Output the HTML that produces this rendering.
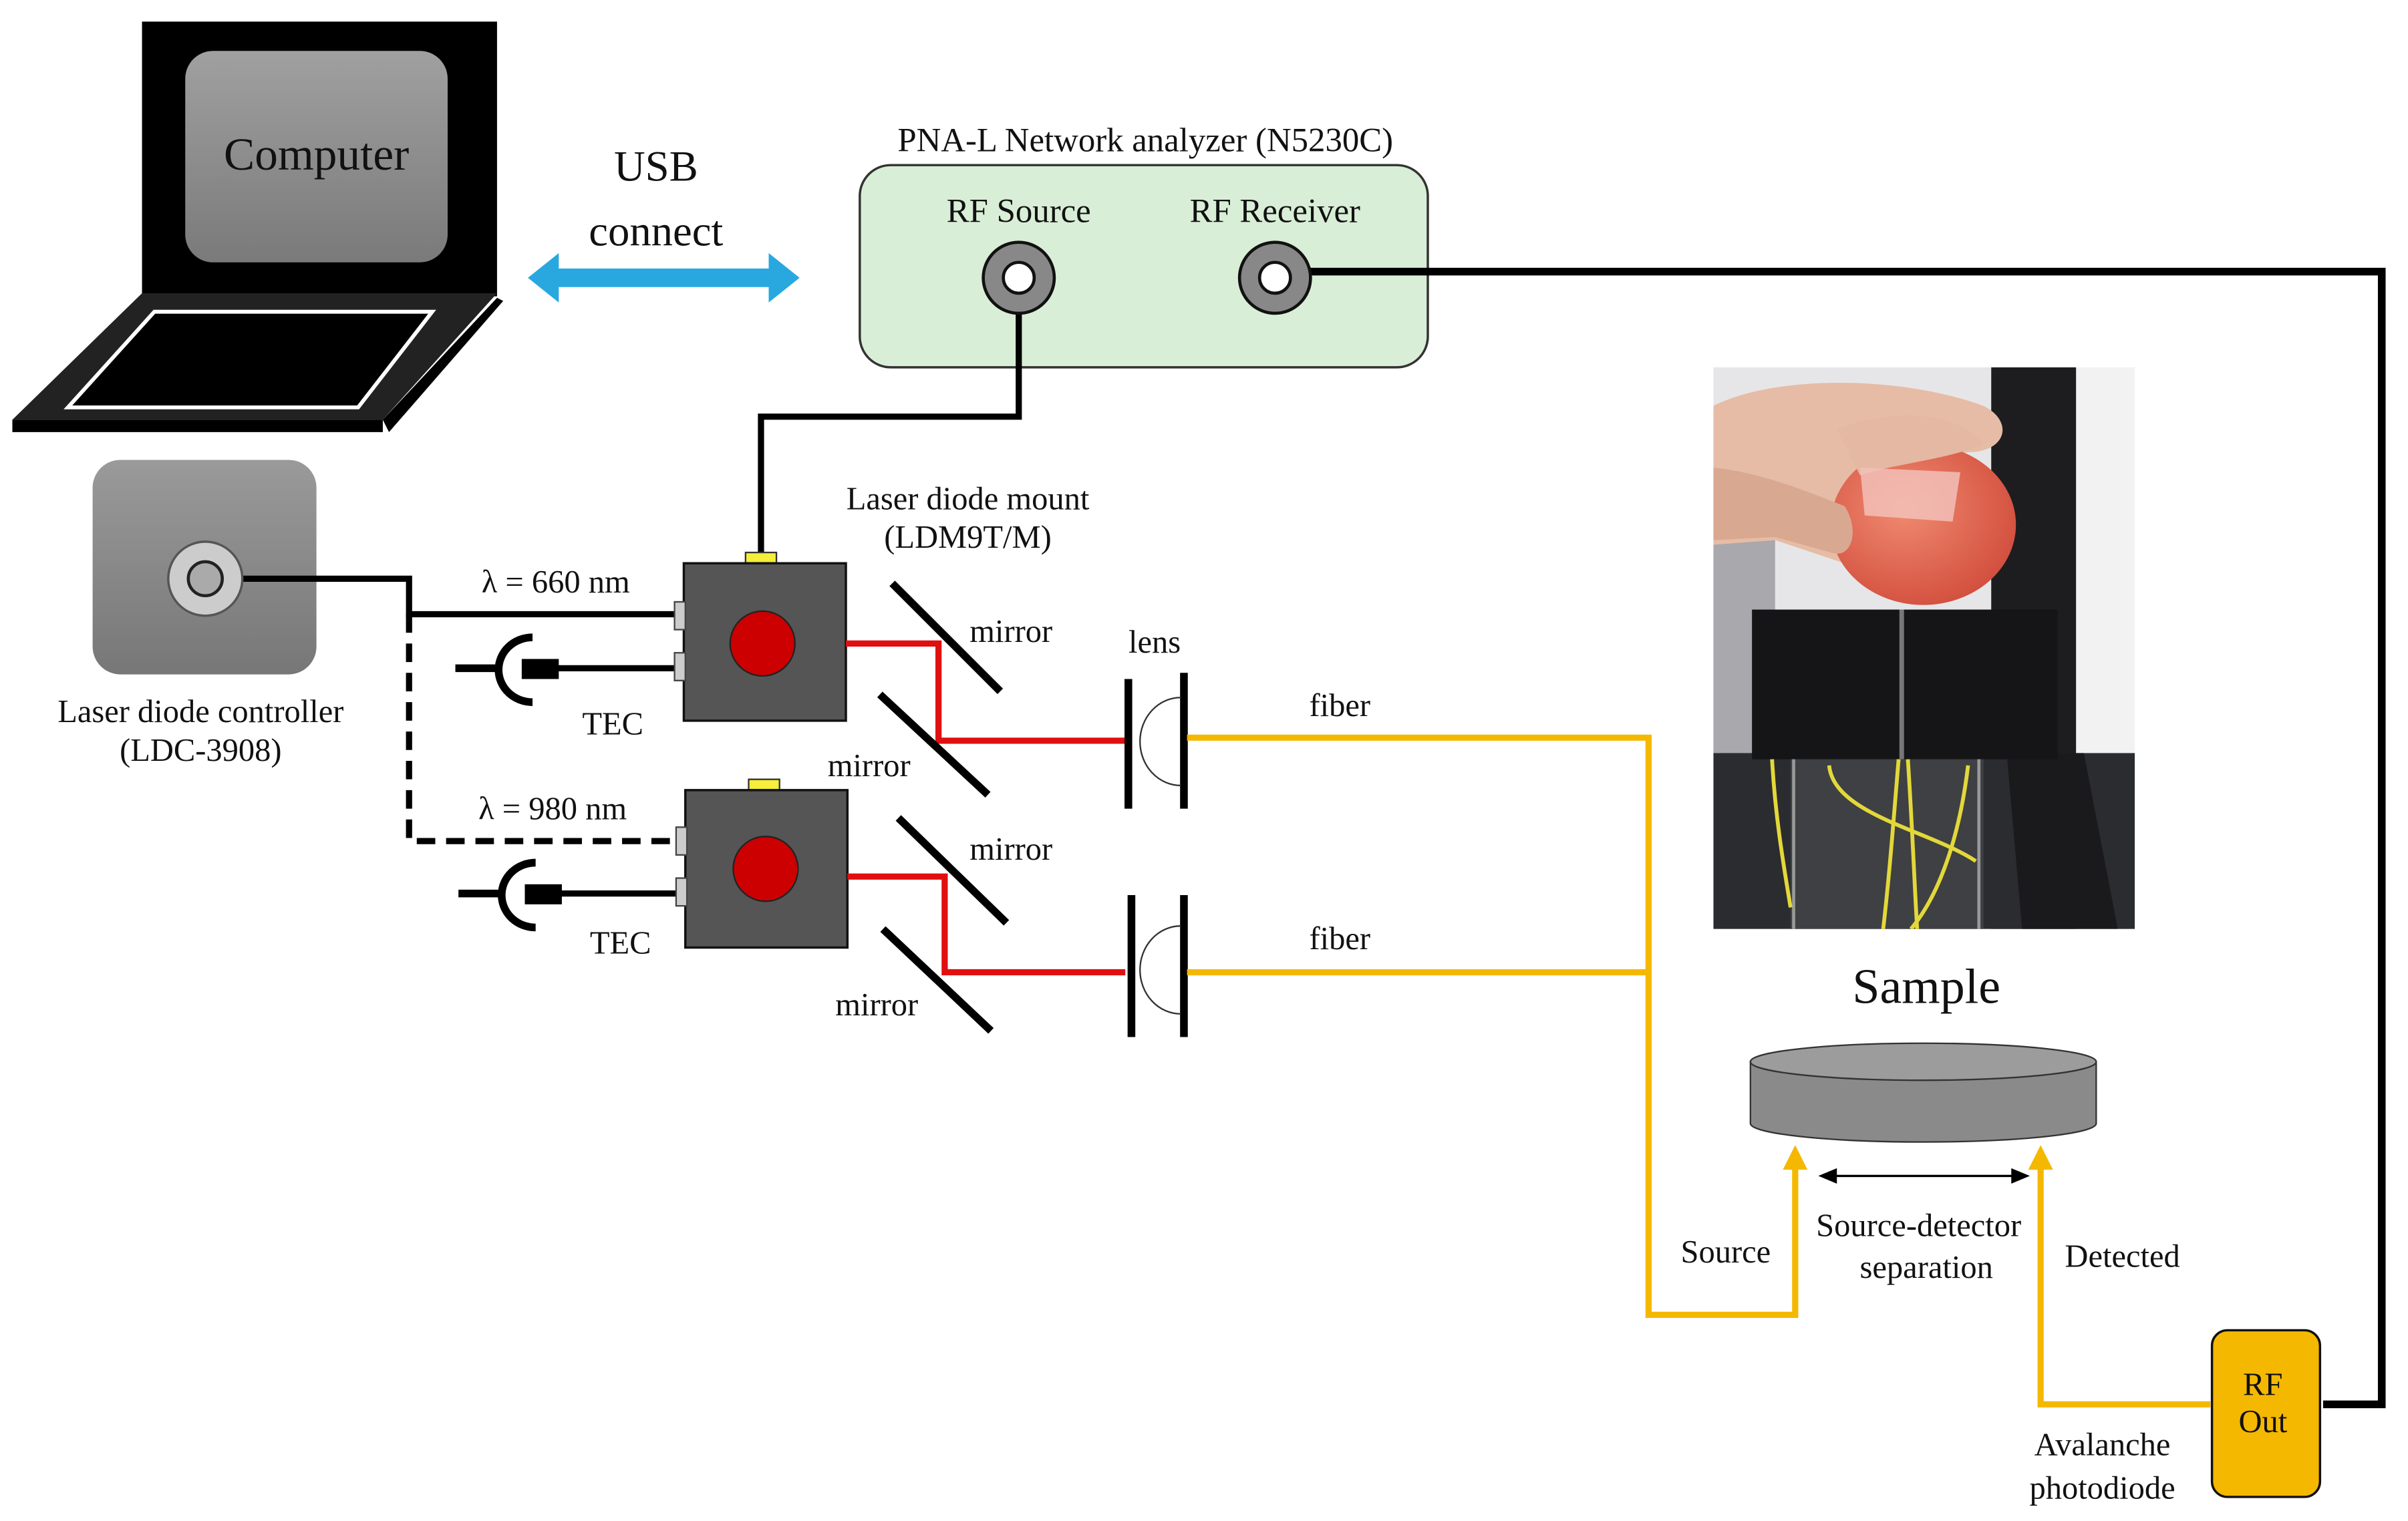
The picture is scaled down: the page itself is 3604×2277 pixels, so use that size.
<!DOCTYPE html>
<html><head><meta charset="utf-8"><style>
html,body{margin:0;padding:0;background:#fff;}
svg{display:block;}
text{font-family:"Liberation Serif",serif;fill:#111;}
</style></head><body>
<svg width="3604" height="2277" viewBox="0 0 1560 985.6" xmlns="http://www.w3.org/2000/svg">
<defs>
<linearGradient id="g1" x1="0" y1="0" x2="0" y2="1"><stop offset="0" stop-color="#a0a0a0"/><stop offset="1" stop-color="#7a7a7a"/></linearGradient>
<linearGradient id="g2" x1="0" y1="0" x2="0" y2="1"><stop offset="0" stop-color="#9a9a9a"/><stop offset="1" stop-color="#777"/></linearGradient>
<radialGradient id="ap" cx="0.4" cy="0.4" r="0.7"><stop offset="0" stop-color="#f08a70"/><stop offset="1" stop-color="#d04a3a"/></radialGradient>
</defs>
<rect width="1560" height="986" fill="#fff"/>
<!-- laptop -->
<rect x="92" y="14" width="230" height="178" fill="#000"/>
<rect x="120" y="33" width="170" height="137" rx="18" fill="url(#g1)"/>
<text x="205" y="110" font-size="30" text-anchor="middle">Computer</text>
<polygon points="92,190 322,190 248,272 8,272" fill="#222"/>
<polygon points="322,193 326,195 252,280 248,272" fill="#000"/>
<rect x="8" y="272" width="240" height="8" fill="#000"/>
<polygon points="100,202 280,202 232,264 44,264" fill="#000" stroke="#fff" stroke-width="2.5"/>
<!-- USB -->
<text x="425" y="117" font-size="28" text-anchor="middle">USB</text>
<text x="425" y="159" font-size="28" text-anchor="middle">connect</text>
<polygon points="342,180 362,164 362,174 498,174 498,164 518,180 498,196 498,186 362,186 362,196" fill="#29a8e0"/>
<!-- PNA -->
<text x="742" y="98" font-size="22" text-anchor="middle">PNA-L Network analyzer (N5230C)</text>
<rect x="557" y="107" width="368" height="131" rx="20" fill="#d9eed6" stroke="#333" stroke-width="1.5"/>
<text x="660" y="144" font-size="22" text-anchor="middle">RF Source</text>
<text x="826" y="144" font-size="22" text-anchor="middle">RF Receiver</text>
<polyline points="660,180 660,270 493,270 493,360" fill="none" stroke="#000" stroke-width="4"/>
<polyline points="826,176 1543,176 1543,910 1505,910" fill="none" stroke="#000" stroke-width="5"/>
<circle cx="660" cy="180" r="23" fill="#888" stroke="#111" stroke-width="2"/>
<circle cx="660" cy="180" r="10" fill="#fff" stroke="#111" stroke-width="2"/>
<circle cx="826" cy="180" r="23" fill="#888" stroke="#111" stroke-width="2"/>
<circle cx="826" cy="180" r="10" fill="#fff" stroke="#111" stroke-width="2"/>
<!-- controller -->
<rect x="60" y="298" width="145" height="139" rx="18" fill="url(#g2)"/>
<polyline points="133,375 265,375 265,398 440,398" fill="none" stroke="#000" stroke-width="4"/>
<polyline points="265,398 265,545 440,545" fill="none" stroke="#000" stroke-width="4" stroke-dasharray="12,7"/>
<circle cx="133" cy="375" r="24" fill="#ccc" stroke="#555" stroke-width="1.5"/>
<circle cx="133" cy="375" r="11" fill="#aaa" stroke="#222" stroke-width="2"/>
<text x="130" y="468" font-size="21" text-anchor="middle">Laser diode controller</text>
<text x="130" y="493" font-size="21" text-anchor="middle">(LDC-3908)</text>
<text x="360" y="384" font-size="21" text-anchor="middle">λ = 660 nm</text>
<text x="358" y="531" font-size="21" text-anchor="middle">λ = 980 nm</text>
<text x="627" y="330" font-size="21" text-anchor="middle">Laser diode mount</text>
<text x="627" y="355" font-size="21" text-anchor="middle">(LDM9T/M)</text>
<!-- TEC 1 -->
<line x1="340" y1="433" x2="440" y2="433" stroke="#000" stroke-width="4"/>
<rect x="338" y="427" width="24" height="13" fill="#000"/>
<path d="M345,413 A22,21 0 0 0 345,455" fill="none" stroke="#000" stroke-width="5"/>
<line x1="295" y1="433" x2="325" y2="433" stroke="#000" stroke-width="5"/>
<text x="397" y="476" font-size="21" text-anchor="middle">TEC</text>
<!-- TEC 2 -->
<line x1="342" y1="579" x2="442" y2="579" stroke="#000" stroke-width="4"/>
<rect x="340" y="573" width="24" height="13" fill="#000"/>
<path d="M347,559 A22,21 0 0 0 347,601" fill="none" stroke="#000" stroke-width="5"/>
<line x1="297" y1="579" x2="327" y2="579" stroke="#000" stroke-width="5"/>
<text x="402" y="618" font-size="21" text-anchor="middle">TEC</text>
<!-- mounts -->
<rect x="483" y="358" width="20" height="8" fill="#f5ee3a" stroke="#333"/>
<rect x="443" y="365" width="105" height="102" fill="#555" stroke="#111" stroke-width="1.5"/>
<circle cx="494" cy="417" r="21" fill="#c00" stroke="#222"/>
<rect x="437" y="390" width="7" height="18" fill="#ccc" stroke="#444"/>
<rect x="437" y="423" width="7" height="18" fill="#ccc" stroke="#444"/>
<rect x="485" y="505" width="20" height="8" fill="#f5ee3a" stroke="#333"/>
<rect x="444" y="512" width="105" height="102" fill="#555" stroke="#111" stroke-width="1.5"/>
<circle cx="496" cy="563" r="21" fill="#c00" stroke="#222"/>
<rect x="438" y="536" width="7" height="18" fill="#ccc" stroke="#444"/>
<rect x="438" y="569" width="7" height="18" fill="#ccc" stroke="#444"/>
<!-- red beams -->
<polyline points="548,417 608,417 608,480 729,480" fill="none" stroke="#e01010" stroke-width="4"/>
<polyline points="549,568 612,568 612,630 729,630" fill="none" stroke="#e01010" stroke-width="4"/>
<g stroke="#000" stroke-width="5">
<line x1="578" y1="378" x2="648" y2="448"/>
<line x1="570" y1="450" x2="640" y2="515"/>
<line x1="582" y1="530" x2="652" y2="598"/>
<line x1="572" y1="602" x2="642" y2="668"/>
</g>
<text x="655" y="416" font-size="21" text-anchor="middle">mirror</text>
<text x="563" y="503" font-size="21" text-anchor="middle">mirror</text>
<text x="655" y="557" font-size="21" text-anchor="middle">mirror</text>
<text x="568" y="658" font-size="21" text-anchor="middle">mirror</text>
<text x="748" y="423" font-size="21" text-anchor="middle">lens</text>
<g stroke="#000" stroke-width="5">
<line x1="731" y1="440" x2="731" y2="524"/><line x1="767" y1="436" x2="767" y2="524"/>
<line x1="733" y1="580" x2="733" y2="672"/><line x1="767" y1="580" x2="767" y2="672"/>
</g>
<path d="M765,452 A26,28 0 0 0 765,509" fill="none" stroke="#333" stroke-width="1"/>
<path d="M765,600 A26,28 0 0 0 765,657" fill="none" stroke="#333" stroke-width="1"/>
<g fill="none" stroke="#f5b800" stroke-width="4">
<polyline points="769,478 1068,478 1068,852 1163,852 1163,755"/>
<polyline points="769,630 1068,630"/>
<polyline points="1432,910 1322,910 1322,755"/>
</g>
<polygon points="1155,758 1163,742 1171,758" fill="#f5b800"/>
<polygon points="1314,758 1322,742 1330,758" fill="#f5b800"/>
<text x="868" y="464" font-size="21" text-anchor="middle">fiber</text>
<text x="868" y="615" font-size="21" text-anchor="middle">fiber</text>
<text x="1248" y="650" font-size="32" text-anchor="middle">Sample</text>
<path d="M1134,688 L1134,728 A112,12 0 0 0 1358,728 L1358,688 Z" fill="#8a8a8a" stroke="#333"/>
<ellipse cx="1246" cy="688" rx="112" ry="12" fill="#9c9c9c" stroke="#333"/>
<line x1="1186" y1="762" x2="1307" y2="762" stroke="#000" stroke-width="1.5"/>
<polygon points="1178,762 1190,757 1190,767" fill="#000"/>
<polygon points="1315,762 1303,757 1303,767" fill="#000"/>
<text x="1118" y="818" font-size="21" text-anchor="middle">Source</text>
<text x="1243" y="801" font-size="21" text-anchor="middle">Source-detector</text>
<text x="1248" y="828" font-size="21" text-anchor="middle">separation</text>
<text x="1375" y="821" font-size="21" text-anchor="middle">Detected</text>
<text x="1362" y="943" font-size="21" text-anchor="middle">Avalanche</text>
<text x="1362" y="971" font-size="21" text-anchor="middle">photodiode</text>
<rect x="1433" y="862" width="70" height="108" rx="10" fill="#f5b800" stroke="#111" stroke-width="1.5"/>
<text x="1466" y="904" font-size="21" text-anchor="middle">RF</text>
<text x="1466" y="928" font-size="21" text-anchor="middle">Out</text>
<!-- photo -->
<svg x="1110" y="238" width="273" height="364" viewBox="0 0 273 364">
<rect width="273" height="364" fill="#e6e6e8"/>
<rect x="0" y="110" width="40" height="150" fill="#a8a8ad"/>
<rect x="180" y="0" width="55" height="364" fill="#1d1d20"/>
<rect x="235" y="0" width="38" height="364" fill="#f2f2f2"/>
<rect x="0" y="250" width="273" height="114" fill="#2b2c2f"/>
<polygon points="190,250 240,250 262,364 200,364" fill="#1a1a1c"/>
<path d="M0,25 C40,5 120,5 175,25 C195,35 190,55 165,55 L125,62 L95,95 C105,115 100,132 82,126 L40,112 L0,115 Z" fill="#e6bca6"/>
<ellipse cx="136" cy="102" rx="60" ry="52" fill="url(#ap)"/>
<path d="M80,40 C120,25 160,30 175,50 C150,60 120,62 95,70 Z" fill="#e4b8a2"/>
<path d="M95,65 L160,68 L155,100 L98,96 Z" fill="#f2c0b8" opacity="0.85"/>
<path d="M0,65 C30,68 60,80 85,90 C95,105 90,125 76,120 L40,110 L0,112 Z" fill="#d9a891"/>
<rect x="25" y="157" width="198" height="97" fill="#151517"/>
<line x1="122" y1="157" x2="122" y2="254" stroke="#777" stroke-width="3"/>
<rect x="50" y="254" width="125" height="110" fill="#3e4043"/>
<line x1="52" y1="254" x2="52" y2="364" stroke="#999" stroke-width="2"/>
<line x1="172" y1="254" x2="172" y2="364" stroke="#999" stroke-width="2"/>
<g fill="none" stroke="#e3d83a" stroke-width="2.5">
<path d="M120,254 C117,290 114,330 110,364"/>
<path d="M126,254 C129,300 130,330 132,364"/>
<path d="M75,258 C78,290 140,300 170,320"/>
<path d="M165,258 C160,300 148,340 128,364"/>
<path d="M38,254 C40,290 45,320 50,350"/>
</g>
</svg>
</svg>
</body></html>
